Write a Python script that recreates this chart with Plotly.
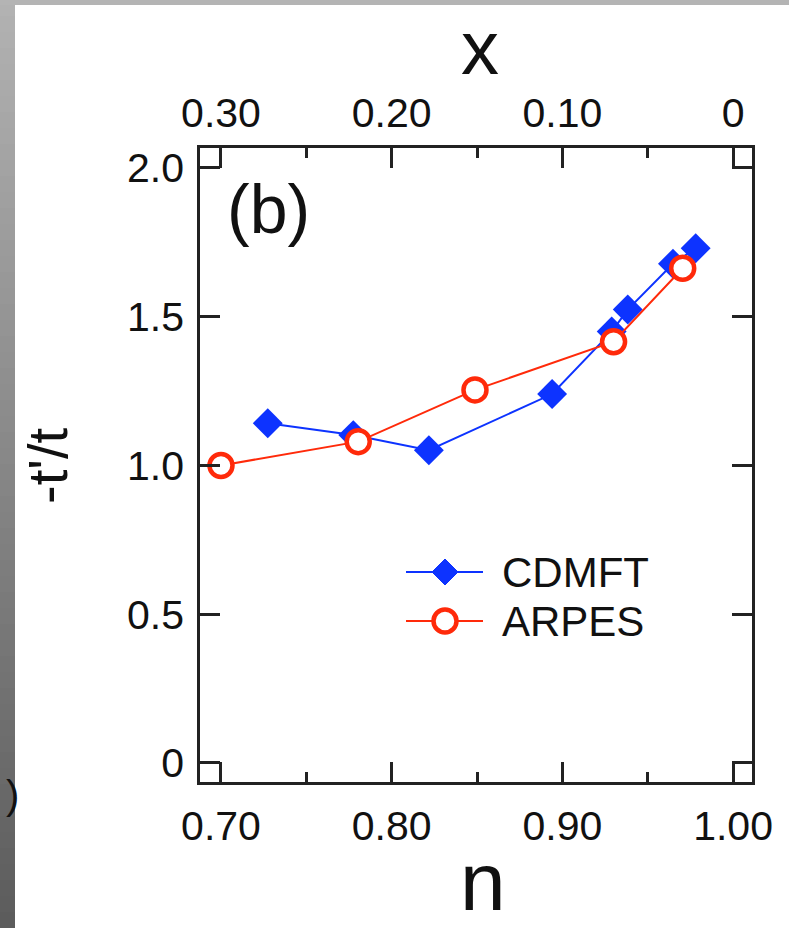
import plotly.graph_objects as go

# ---- data ----
cdmft_n = [0.7274, 0.7775, 0.8218, 0.8940, 0.9289, 0.9383, 0.9648, 0.9781]
cdmft_t = [1.142, 1.102, 1.051, 1.240, 1.450, 1.524, 1.678, 1.730]
arpes_n = [0.700, 0.7804, 0.8488, 0.9300, 0.9705]
arpes_t = [1.000, 1.080, 1.254, 1.416, 1.663]

n_ticks = [0.70, 0.80, 0.90, 1.00]
n_ticklabels = ["0.70", "0.80", "0.90", "1.00"]
x_ticklabels = ["0.30", "0.20", "0.10", "0"]
y_ticks = [0, 0.5, 1.0, 1.5, 2.0]
y_ticklabels = ["0", "0.5", "1.0", "1.5", "2.0"]

BLUE = "#0d33ff"
RED = "#ff2a0a"
FONT = "Liberation Sans, Arial, Helvetica, sans-serif"
W, H = 789, 928
L, R, T, B = 200, 752, 148, 782


def px(x):
    return (x - L) / (R - L)


def py(y):
    return (B - y) / (B - T)


fig = go.Figure()
fig.add_trace(go.Scatter(
    x=cdmft_n, y=cdmft_t, mode="lines+markers", name="CDMFT",
    line=dict(color=BLUE, width=2),
    marker=dict(symbol="diamond", size=23, color=BLUE),
    showlegend=False))
fig.add_trace(go.Scatter(
    x=arpes_n, y=arpes_t, mode="lines+markers", name="ARPES",
    line=dict(color=RED, width=2),
    marker=dict(symbol="circle", size=23, color="white",
                line=dict(color=RED, width=4.5)),
    showlegend=False))
# invisible trace to anchor top axis
fig.add_trace(go.Scatter(x=[n_ticks[0]], y=[y_ticks[0]], xaxis="x2",
                         mode="markers", marker=dict(opacity=0),
                         showlegend=False, hoverinfo="skip"))

axis_common = dict(showline=True, linecolor="#222", linewidth=2.5,
                   ticks="inside", tickcolor="#222", tickwidth=2.5,
                   ticklen=20, showgrid=False, zeroline=False,
                   tickfont=dict(family=FONT, size=41, color="#111"))

fig.update_layout(
    width=W, height=H,
    margin=dict(l=L, r=W - R, t=T, b=H - B, pad=0),
    paper_bgcolor="white", plot_bgcolor="white",
    xaxis=dict(range=[0.6877, 1.0111], tickvals=n_ticks,
               ticktext=n_ticklabels, mirror="ticks",
               minor=dict(tickvals=[0.75, 0.85, 0.95], ticks="inside",
                          ticklen=10, tickwidth=2.5, tickcolor="#222"),
               ticklabelstandoff=6, **axis_common),
    xaxis2=dict(range=[0.6877, 1.0111], overlaying="x", side="top",
                tickvals=n_ticks, ticktext=x_ticklabels, ticks="",
                showline=False, showgrid=False, zeroline=False,
                ticklabelstandoff=12,
                tickfont=dict(family=FONT, size=41, color="#111")),
    yaxis=dict(range=[-0.064, 2.067], tickvals=y_ticks,
               ticktext=y_ticklabels, mirror="ticks",
               ticklabelstandoff=5, **axis_common),
    showlegend=False,
)

shapes = []
# gray frame decorations (left strip gradient, top bar)
nseg = 58
c0, c1 = 0xB2, 0x5C
for i in range(nseg):
    v = int(round(c0 + (c1 - c0) * i / (nseg - 1)))
    g = f"#{v:02x}{v:02x}{v:02x}"
    y0 = H * i / nseg
    y1 = H * (i + 1) / nseg + 0.5
    shapes.append(dict(type="rect", xref="paper", yref="paper",
                       x0=px(0), x1=px(15), y0=py(y1), y1=py(y0),
                       fillcolor=g, line=dict(width=0), layer="above"))
shapes.append(dict(type="rect", xref="paper", yref="paper",
                   x0=px(0), x1=px(W), y0=py(5), y1=py(0),
                   fillcolor="#b4b4b4", line=dict(width=0), layer="above"))

# legend glyphs
for yy, col in [(572, BLUE), (621, RED)]:
    shapes.append(dict(type="line", xref="paper", yref="paper",
                       x0=px(406), x1=px(483), y0=py(yy), y1=py(yy),
                       line=dict(color=col, width=2)))
cx, cy, hw = 445, 572, 13
shapes.append(dict(type="path", xref="paper", yref="paper",
                   path=f"M {px(cx-hw)},{py(cy)} L {px(cx)},{py(cy-hw)} "
                        f"L {px(cx+hw)},{py(cy)} L {px(cx)},{py(cy+hw)} Z",
                   fillcolor=BLUE, line=dict(color=BLUE, width=1)))
cy2, r = 621, 11.5
shapes.append(dict(type="circle", xref="paper", yref="paper",
                   x0=px(cx - r), x1=px(cx + r), y0=py(cy2 + r), y1=py(cy2 - r),
                   fillcolor="white", line=dict(color=RED, width=4.5)))
fig.update_layout(shapes=shapes)

ann = [
    dict(text="CDMFT", x=px(500), y=py(572), xanchor="left", yanchor="middle",
         font=dict(family=FONT, size=42, color="#111")),
    dict(text="ARPES", x=px(500), y=py(621), xanchor="left", yanchor="middle",
         font=dict(family=FONT, size=42, color="#111")),
    dict(text="(b)", x=px(225), y=py(209), xanchor="left", yanchor="middle",
         font=dict(family=FONT, size=68, color="#111")),
    dict(text="n", x=px(483), y=py(881), xanchor="center", yanchor="middle",
         font=dict(family=FONT, size=82, color="#111")),
    dict(text="x", x=px(480), y=py(47), xanchor="center", yanchor="middle",
         font=dict(family=FONT, size=76, color="#111")),
    dict(text="-t'/t", x=px(47), y=py(466), xanchor="center", yanchor="middle",
         textangle=-90, font=dict(family=FONT, size=56, color="#111")),
    dict(text=")", x=px(21), y=py(795), xanchor="right", yanchor="middle",
         font=dict(family=FONT, size=40, color="#111")),
]
for a in ann:
    a.update(xref="paper", yref="paper", showarrow=False)
fig.update_layout(annotations=ann)

fig.write_html("out.html")
